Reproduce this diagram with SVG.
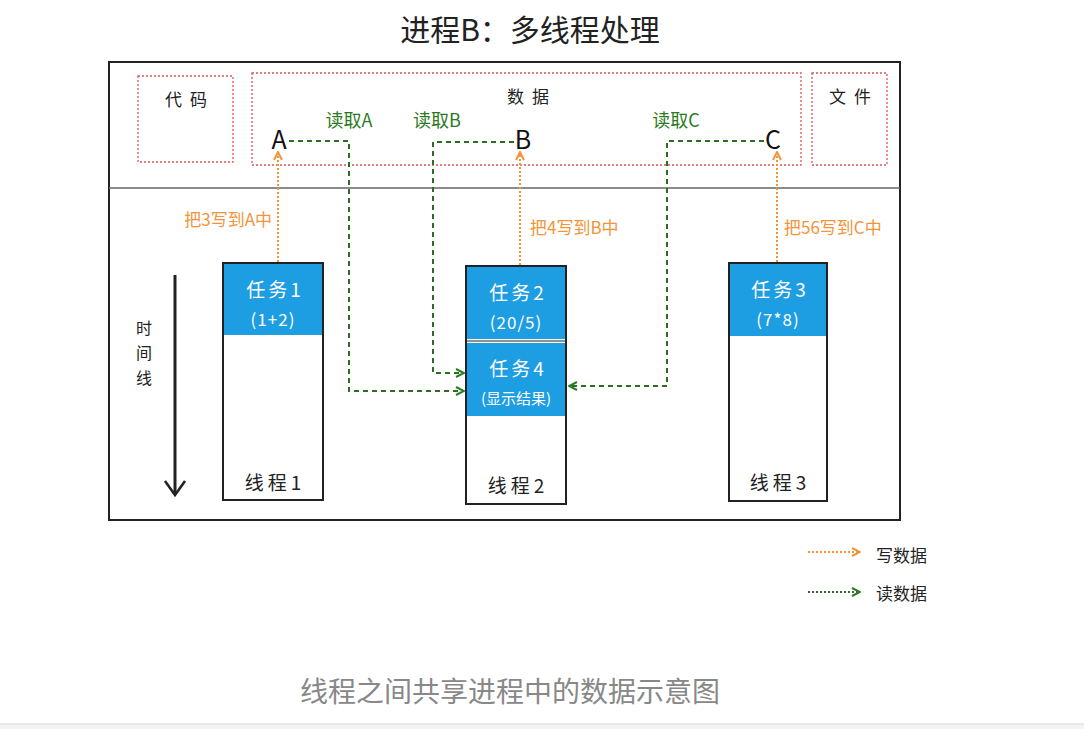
<svg xmlns="http://www.w3.org/2000/svg" width="1084" height="729" viewBox="0 0 1084 729">
<style>
text{font-family:"Noto Sans CJK SC","Noto Sans",sans-serif}
.t{fill:#222}
.red{fill:none;stroke:#e05555;stroke-width:1.3;stroke-dasharray:2 2}
.rd{fill:none;stroke:#2b6e22;stroke-width:2;stroke-dasharray:5 4}
.wr{fill:none;stroke:#f2953a;stroke-width:2;stroke-dasharray:2 2}
.blk{fill:#fff;stroke:#222;stroke-width:2}
.blue{fill:#1d9de2}
.wt{fill:#fff;text-anchor:middle;letter-spacing:3px}
.og{fill:#f2953a;font-size:17px}
.gr{fill:#2b7a22;font-size:18px}
.lab{fill:#222;font-size:17px;text-anchor:middle;letter-spacing:8px}
.th{fill:#222;font-size:19px;text-anchor:middle;letter-spacing:4px}
.abc{fill:#111;font-size:25px;text-anchor:middle}
</style>
<defs>
<marker id="ag" viewBox="0 0 10 10" refX="9" refY="5" markerWidth="10" markerHeight="10" markerUnits="userSpaceOnUse" orient="auto"><path d="M1,1 L9,5 L1,9" fill="none" stroke="#2b7a22" stroke-width="2"/></marker>
<marker id="ao" viewBox="0 0 10 10" refX="9" refY="5" markerWidth="10" markerHeight="10" markerUnits="userSpaceOnUse" orient="auto"><path d="M1,1 L9,5 L1,9" fill="none" stroke="#f2953a" stroke-width="2"/></marker>
</defs>
<rect width="1084" height="729" fill="#fff"/>
<rect x="0" y="724" width="1084" height="5" fill="#f4f4f6"/>
<line x1="0" y1="724" x2="1084" y2="724" stroke="#d8d8d8" stroke-width="1"/>
<text x="530" y="41" font-size="30" text-anchor="middle" class="t">进程B：多线程处理</text>
<g id="process">
<rect x="109" y="62" width="791" height="458" fill="none" stroke="#222" stroke-width="2"/>
<line x1="109" y1="188" x2="900" y2="188" stroke="#666" stroke-width="1.5"/>
</g>
<g id="code"><rect x="138" y="76" width="95" height="86" class="red"/><text x="190" y="106" class="lab">代码</text></g>
<g id="data"><rect x="252" y="73" width="549" height="92" class="red"/><text x="532" y="103" class="lab">数据</text>
<text x="279" y="149" class="abc">A</text>
<text x="523" y="149" class="abc">B</text>
<text x="773" y="149" class="abc">C</text></g>
<g id="file"><rect x="812" y="73" width="75" height="92" class="red"/><text x="854" y="103" class="lab">文件</text></g>
<g id="timeline">
<line x1="175" y1="275" x2="175" y2="494" stroke="#222" stroke-width="3"/>
<path d="M165,481 L175,495 L185,481" fill="none" stroke="#222" stroke-width="2.5"/>
<text x="144" y="334" font-size="16" text-anchor="middle" class="t">时</text>
<text x="144" y="359" font-size="16" text-anchor="middle" class="t">间</text>
<text x="144" y="384" font-size="16" text-anchor="middle" class="t">线</text>
</g>
<g id="thread1">
<rect x="223" y="263" width="100" height="237" class="blk"/>
<rect x="224" y="264" width="98" height="71" class="blue"/>
<text x="275" y="297" class="wt" font-size="19">任务1</text>
<text x="273" y="326" class="wt" font-size="17" style="letter-spacing:1px">(1+2)</text>
<text x="275" y="490" class="th">线程1</text>
</g>
<g id="thread2">
<rect x="466" y="266" width="100" height="238" class="blk"/>
<rect x="467" y="267" width="98" height="72" class="blue"/>
<rect x="467" y="343" width="98" height="73" class="blue"/>
<line x1="466" y1="341" x2="566" y2="341" stroke="#222" stroke-width="1"/>
<text x="518" y="300" class="wt" font-size="19">任务2</text>
<text x="516" y="329" class="wt" font-size="17" style="letter-spacing:1px">(20/5)</text>
<text x="518" y="376" class="wt" font-size="19">任务4</text>
<text x="516" y="404" class="wt" font-size="15" style="letter-spacing:0">(显示结果)</text>
<text x="518" y="493" class="th">线程2</text>
</g>
<g id="thread3">
<rect x="729" y="263" width="98" height="238" class="blk"/>
<rect x="730" y="264" width="96" height="72" class="blue"/>
<text x="780" y="297" class="wt" font-size="19">任务3</text>
<text x="778" y="326" class="wt" font-size="17" style="letter-spacing:1px">(7*8)</text>
<text x="780" y="490" class="th">线程3</text>
</g>
<g id="connectors">
<path d="M289,141 H349 V391 H464" class="rd" marker-end="url(#ag)"/>
<path d="M514,142 H433 V373 H464" class="rd" marker-end="url(#ag)"/>
<path d="M764,141 H667 V386 H569" class="rd" marker-end="url(#ag)"/>
<path d="M278,262 V152" class="wr" marker-end="url(#ao)"/>
<path d="M520,265 V152" class="wr" marker-end="url(#ao)"/>
<path d="M777,262 V152" class="wr" marker-end="url(#ao)"/>
<text x="349" y="127" class="gr" text-anchor="middle">读取A</text>
<text x="437" y="127" class="gr" text-anchor="middle">读取B</text>
<text x="676" y="127" class="gr" text-anchor="middle">读取C</text>
<text x="272" y="226" class="og" text-anchor="end">把3写到A中</text>
<text x="530" y="234" class="og">把4写到B中</text>
<text x="784" y="234" class="og">把56写到C中</text>
</g>
<g id="legend">
<path d="M808,552 H860" class="wr" marker-end="url(#ao)"/>
<text x="876" y="562" font-size="17" class="t">写数据</text>
<path d="M808,592 H860" fill="none" stroke="#2b6e22" stroke-width="2" stroke-dasharray="2 2" marker-end="url(#ag)"/>
<text x="876" y="600" font-size="17" class="t">读数据</text>
</g>
<text x="510" y="702" font-size="28" text-anchor="middle" fill="#888">线程之间共享进程中的数据示意图</text>
</svg>
